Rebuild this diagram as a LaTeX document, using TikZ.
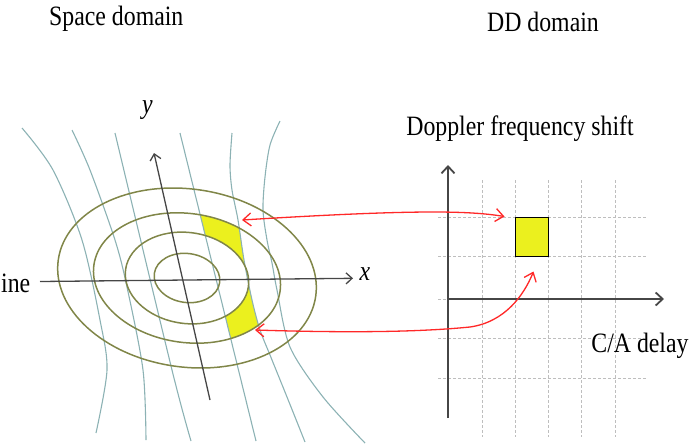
\documentclass[tikz,border=0pt]{standalone}
\usepackage{fontspec}
\setmainfont{Liberation Serif}[FakeStretch=0.85]
\usetikzlibrary{arrows.meta,positioning}
\definecolor{ringcol}{RGB}{128,134,72}
\definecolor{isocol}{RGB}{140,178,180}
\definecolor{patchcol}{RGB}{235,240,30}
\definecolor{linkred}{RGB}{255,40,40}
\definecolor{gridcol}{RGB}{190,190,190}
\definecolor{axiscol}{RGB}{70,70,70}
\tikzset{
  iso/.style={isocol,line width=1.1pt},
  ring/.style={ringcol,line width=1.5pt},
  ax/.style={axiscol,line width=1.3pt,-{Straight Barb[length=6pt,width=11pt]}},
  axdd/.style={axiscol,line width=1.8pt,-{Straight Barb[length=7pt,width=13pt]}},
  grd/.style={gridcol,line width=1pt,dash pattern=on 3pt off 2pt},
  link/.style={linkred,line width=1.3pt,
    {Straight Barb[length=8pt,width=13pt]}-{Straight Barb[length=8pt,width=13pt]}},
  lbl/.style={inner sep=0pt,anchor=base},
  cell/.style={draw,fill=patchcol,line width=1pt,inner sep=0pt,
    minimum width=33pt,minimum height=39pt},
}

\begin{document}
\begin{tikzpicture}[x=1pt,y=-1pt,font=\fontsize{28}{32}\selectfont]
  \useasboundingbox (0,0) rectangle (694,445);
  \node[lbl] (spacet) at (116.3,25) {Space domain};
  \node[lbl] (ddt) at (543,31) {DD domain};
  % shaded cells: between two rings and two iso-Doppler lines
  \begin{scope}
    \clip (180,133) -- (256,441) -- (400,441) -- (400,133) -- cycle;
    \clip plot[smooth] coordinates {(232,133) (230,165) (232,190) (238,220) (244,260)
      (252,300) (260,330) (270,355) (287,397) (305,442)} -- (0,442) -- (0,133) -- cycle;
    \fill[patchcol,even odd rule,shift={(187,278)},rotate=-8]
      (0,0) ellipse (94 and 64.5) (0,0) ellipse (62 and 45.5);
  \end{scope}
  \draw[iso] plot[smooth] coordinates {(22,128) (53,170) (82,240) (100,320) (107,370) (96,433)};
  \draw[iso] plot[smooth] coordinates {(72,130) (90,170) (115,240) (127,287) (143,370) (146,440)};
  \draw[iso] plot[smooth] coordinates {(115,133) (172,370) (191,441)};
  \draw[iso] (180,133) -- (256,441);
  \draw[iso] plot[smooth] coordinates {(232,133) (230,165) (232,190) (238,220) (244,260)
    (252,300) (260,330) (270,355) (287,397) (305,442)};
  \draw[iso] plot[smooth] coordinates {(280,121) (270,145) (265,177) (263,210) (267,240)
    (272,263) (277,290) (290,347) (323,397) (365,443)};
  \begin{scope}[shift={(187,278)},rotate=-8]
    \draw[ring] (0,0) ellipse (130 and 89);
    \draw[ring] (0,0) ellipse (94 and 64.5);
    \draw[ring] (0,0) ellipse (62 and 45.5);
    \draw[ring] (0,0) ellipse (33 and 24.5);
  \end{scope}
  \draw[ax] (40,281.5) -- (353,278.3);
  \draw[ax] (210,400) -- (154,153);
  \node[lbl] (xlab) at (365,280) {\textit{x}};
  \node[lbl] (ylab) at (147.5,113) {\textit{y}};
  \node[lbl,anchor=base west] (bline) at (1,292) {ine};

  % delay-Doppler grid
  \foreach \gx in {482,515,548,581,615}
    \draw[grd] (\gx,180) -- (\gx,437);
  \foreach \gy in {217,256,299,338,378}
    \draw[grd] (438,\gy) -- (647,\gy);
  \draw[axdd] (448,418) -- (448,165);
  \draw[axdd] (448,299) -- (664,299);
  \node[lbl] (dopp) at (520,135) {Doppler frequency shift};
  \node[lbl] (delay) at (640,352) {C/A delay};
  \node[cell] (cell) at (531.5,236.5) {};

  \coordinate (pu) at (242,220);
  \coordinate (pl) at (255,330);
  \draw[link] (pu) .. controls (420,209) and (470,211) .. ([xshift=-10pt]cell.north west);
  \draw[link] (pl) .. controls (350,333) and (420,332) .. (470,327)
    .. controls (505,322) and (524,295) .. ([xshift=2pt,yshift=-15pt]cell.south);
\end{tikzpicture}
\end{document}
